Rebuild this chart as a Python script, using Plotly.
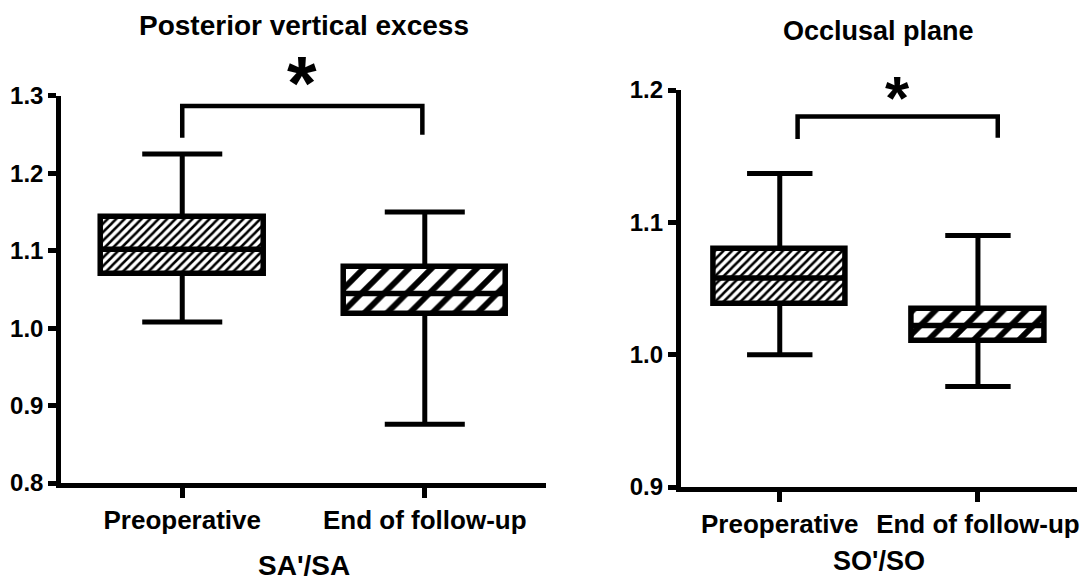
import plotly.graph_objects as go
import numpy as np

# ---------------- data ----------------
categories = ["Preoperative", "End of follow-up"]

# Posterior vertical excess (SA'/SA)
pve_low = [1.008, 0.876]
pve_q1 = [1.070, 1.018]
pve_med = [1.102, 1.045]
pve_q3 = [1.144, 1.079]
pve_high = [1.225, 1.150]
pve_bracket_x = [0.0, 0.0, 0.99, 0.99]
pve_bracket_y = [1.246, 1.287, 1.287, 1.250]
pve_star_y = 1.331
pve_yticks = [0.8, 0.9, 1.0, 1.1, 1.2, 1.3]

# Occlusal plane (SO'/SO)
occ_low = [1.000, 0.976]
occ_q1 = [1.038, 1.010]
occ_med = [1.058, 1.022]
occ_q3 = [1.080, 1.0345]
occ_high = [1.137, 1.090]
occ_bracket_x = [0.09, 0.09, 1.10, 1.10]
occ_bracket_y = [1.163, 1.180, 1.180, 1.164]
occ_star_y = 1.2
occ_yticks = [0.9, 1.0, 1.1, 1.2]

titles = ["Posterior vertical excess", "Occlusal plane"]
xtitles = ["SA'/SA", "SO'/SO"]
sig_label = "*"

# ---------------- style ----------------
FONT = "Liberation Sans, Arial, Helvetica, sans-serif"
BOX_W = 0.67
CAP_W = 0.33
LW = 5
pattern_sizes = [6, 16]
pattern_solid = [0.42, 0.36]

X1_DOM = [0.0563, 0.5042]
Y1_DOM = [0.1672, 0.8345]
X2_DOM = [0.6285, 0.9945]
Y2_DOM = [0.1603, 0.8448]

fig = go.Figure()


def add_panel(fig, xa, ya, low, q1, med, q3, high, bx, by):
    pos = np.arange(len(categories), dtype=float)
    q1a = np.array(q1)
    q3a = np.array(q3)
    fig.add_trace(go.Bar(
        x=pos, y=q3a - q1a, base=q1a, width=BOX_W,
        marker=dict(color="white",
                    line=dict(color="black", width=5.5),
                    pattern=dict(shape="/", size=pattern_sizes,
                                 solidity=pattern_solid, fgopacity=1,
                                 fgcolor="black", bgcolor="white")),
        xaxis=xa, yaxis=ya, showlegend=False, hoverinfo="skip"))
    # whiskers
    wx, wy = [], []
    for p, lo, a, b, hi in zip(pos, low, q1, q3, high):
        wx += [p, p, None, p, p, None]
        wy += [b, hi, None, lo, a, None]
    fig.add_trace(go.Scatter(x=wx, y=wy, mode="lines",
                             line=dict(color="black", width=LW),
                             xaxis=xa, yaxis=ya, showlegend=False, hoverinfo="skip"))
    # caps
    cx, cy = [], []
    for p, lo, hi in zip(pos, low, high):
        cx += [p - CAP_W / 2, p + CAP_W / 2, None, p - CAP_W / 2, p + CAP_W / 2, None]
        cy += [hi, hi, None, lo, lo, None]
    fig.add_trace(go.Scatter(x=cx, y=cy, mode="lines",
                             line=dict(color="black", width=LW),
                             xaxis=xa, yaxis=ya, showlegend=False, hoverinfo="skip"))
    # medians
    mx, my = [], []
    for p, m in zip(pos, med):
        mx += [p - BOX_W / 2, p + BOX_W / 2, None]
        my += [m, m, None]
    fig.add_trace(go.Scatter(x=mx, y=my, mode="lines",
                             line=dict(color="black", width=5.5),
                             xaxis=xa, yaxis=ya, showlegend=False, hoverinfo="skip"))
    # significance bracket
    fig.add_trace(go.Scatter(x=bx, y=by, mode="lines",
                             line=dict(color="black", width=4.5),
                             xaxis=xa, yaxis=ya, showlegend=False, hoverinfo="skip",
                             cliponaxis=False))


add_panel(fig, "x", "y", pve_low, pve_q1, pve_med, pve_q3, pve_high,
          pve_bracket_x, pve_bracket_y)
add_panel(fig, "x2", "y2", occ_low, occ_q1, occ_med, occ_q3, occ_high,
          occ_bracket_x, occ_bracket_y)

xaxis_common = dict(
    range=[-0.5, 1.5], tickvals=list(range(len(categories))), ticktext=categories,
    showline=True, linecolor="black", linewidth=4.5, mirror=False,
    ticks="outside", ticklen=10, tickwidth=4.5, tickcolor="black",
    showgrid=False, zeroline=False, automargin=False,
    tickfont=dict(family=FONT, size=26, color="black", weight="bold"),
    ticklabelstandoff=0, fixedrange=True)
yaxis_common = dict(
    showline=True, linecolor="black", linewidth=4.5,
    ticks="outside", ticklen=8, tickwidth=4.5, tickcolor="black",
    showgrid=False, zeroline=False, automargin=False, tickformat=".1f",
    tickfont=dict(family=FONT, size=24, color="black", weight="bold"),
    ticklabelstandoff=0, fixedrange=True)

fig.update_layout(
    width=1083, height=580,
    margin=dict(l=0, r=0, t=0, b=0),
    paper_bgcolor="white", plot_bgcolor="white",
    bargap=0, showlegend=False,
    xaxis=dict(xaxis_common, domain=X1_DOM, anchor="y"),
    yaxis=dict(yaxis_common, domain=Y1_DOM, anchor="x",
               range=[pve_yticks[0], pve_yticks[-1]], tickvals=pve_yticks),
    xaxis2=dict(xaxis_common, domain=X2_DOM, anchor="y2"),
    yaxis2=dict(yaxis_common, domain=Y2_DOM, anchor="x2",
                range=[occ_yticks[0], occ_yticks[-1]], tickvals=occ_yticks),
)


def to_paper_x(v, dom, rng=(-0.5, 1.5)):
    return dom[0] + (v - rng[0]) / (rng[1] - rng[0]) * (dom[1] - dom[0])


def to_paper_y(v, dom, rng):
    return dom[0] + (v - rng[0]) / (rng[1] - rng[0]) * (dom[1] - dom[0])


annots = []
# panel titles
annots.append(dict(text=titles[0], xref="paper", yref="paper",
                   x=sum(X1_DOM) / 2, y=1 - 25.5 / 580,
                   xanchor="center", yanchor="middle", showarrow=False,
                   font=dict(family=FONT, size=28, color="black", weight="bold")))
annots.append(dict(text=titles[1], xref="paper", yref="paper",
                   x=sum(X2_DOM) / 2, y=1 - 31 / 580,
                   xanchor="center", yanchor="middle", showarrow=False,
                   font=dict(family=FONT, size=27, color="black", weight="bold")))
# x-axis titles
annots.append(dict(text=xtitles[0], xref="paper", yref="paper",
                   x=sum(X1_DOM) / 2, y=1 - 565 / 580,
                   xanchor="center", yanchor="middle", showarrow=False,
                   font=dict(family=FONT, size=28, color="black", weight="bold")))
annots.append(dict(text=xtitles[1], xref="paper", yref="paper",
                   x=sum(X2_DOM) / 2, y=1 - 561 / 580,
                   xanchor="center", yanchor="middle", showarrow=False,
                   font=dict(family=FONT, size=27, color="black", weight="bold")))
# asterisks (glyph sits high in its line box, hence the downward shift)
S1, S2 = 76, 62
annots.append(dict(text=sig_label, xref="paper", yref="paper",
                   x=to_paper_x((pve_bracket_x[0] + pve_bracket_x[-1]) / 2, X1_DOM),
                   y=to_paper_y(pve_star_y, Y1_DOM, (pve_yticks[0], pve_yticks[-1])),
                   xanchor="center", yanchor="middle", showarrow=False,
                   yshift=-0.14 * S1,
                   font=dict(family=FONT, size=S1, color="black", weight="bold")))
annots.append(dict(text=sig_label, xref="paper", yref="paper",
                   x=to_paper_x((occ_bracket_x[0] + occ_bracket_x[-1]) / 2, X2_DOM),
                   y=to_paper_y(occ_star_y, Y2_DOM, (occ_yticks[0], occ_yticks[-1])),
                   xanchor="center", yanchor="middle", showarrow=False,
                   yshift=-0.12 * S2,
                   font=dict(family=FONT, size=S2, color="black", weight="bold")))
fig.update_layout(annotations=annots)

fig.write_html("out.html")
